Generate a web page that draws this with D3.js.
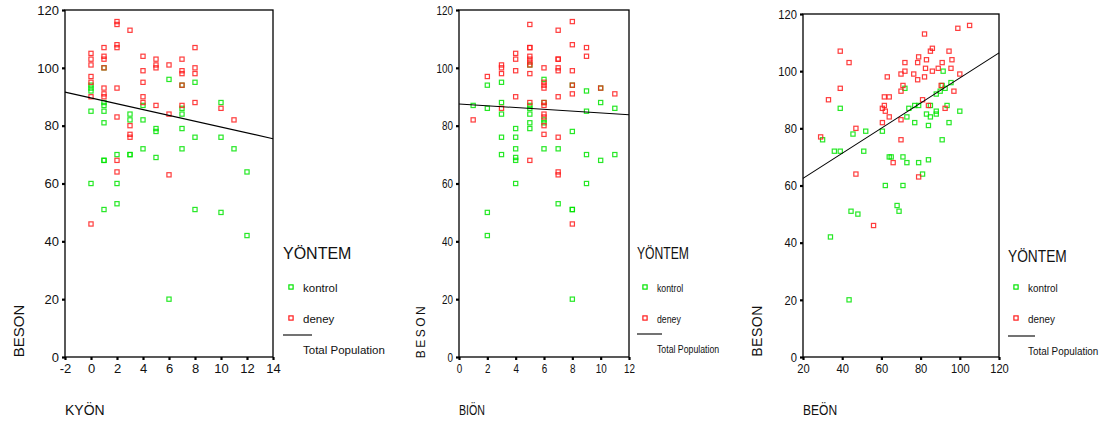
<!DOCTYPE html>
<html lang="en">
<head>
    <meta charset="UTF-8">
    <title>BESON scatter plots</title>
    <script src="https://d3js.org/d3.v7.min.js"></script>
    <style>
        body { margin: 0; background: #fff; }
        svg { display: block; font-family: "Liberation Sans", Arial, sans-serif; }
    </style>
</head>
<body>
<svg id="chart" width="1112" height="421"></svg>
<script>
    // --- data: [x, BESON] ---
    const kyonKontrol = [[0,94],[0,93],[0,92],[0,85],[0,60],[1,100],[1,88],[1,87],[1,85],[1,81],[1,68],[1,68],[1,51],
        [2,70],[2,60],[2,53],[3,84],[3,82],[3,70],[3,70],[4,87],[4,82],[4,72],[5,79],[5,78],[5,69],[6,96],[6,20],
        [7,94],[7,86],[7,84],[7,79],[7,72],[8,95],[8,76],[8,51],[10,88],[10,76],[10,50],[11,72],[12,64],[12,42]];
    const kyonDeney = [[0,105],[0,103],[0,101],[0,97],[0,95],[0,90],[0,46],[1,107],[1,104],[1,103],[1,100],[1,93],[1,91],[1,90],
        [2,116],[2,115],[2,108],[2,107],[2,93],[2,83],[2,68],[2,64],[3,113],[3,80],[3,77],[3,76],
        [4,104],[4,99],[4,95],[4,90],[4,88],[5,103],[5,101],[5,100],[5,87],[6,101],[6,84],[6,63],
        [7,103],[7,99],[7,98],[7,94],[7,87],[8,107],[8,100],[8,98],[8,88],[10,86],[11,82]];

    const bionKontrol = [[1,87],[2,94],[2,86],[2,50],[2,42],[3,95],[3,88],[3,84],[3,76],[3,70],
        [4,79],[4,76],[4,72],[4,69],[4,68],[4,60],[5,101],[5,87],[5,86],[5,84],[5,81],[5,79],
        [6,96],[6,88],[6,82],[6,81],[6,72],[7,72],[7,53],[8,94],[8,78],[8,51],[8,51],[8,20],
        [9,92],[9,85],[9,70],[9,60],[10,93],[10,88],[10,68],[11,86],[11,70]];
    const bionDeney = [[1,82],[2,97],[3,101],[3,100],[3,98],[3,86],[4,105],[4,103],[4,99],[4,90],
        [5,115],[5,107],[5,107],[5,104],[5,103],[5,102],[5,101],[5,98],[5,88],[5,68],
        [6,100],[6,95],[6,94],[6,93],[6,88],[6,87],[6,84],[6,83],[6,80],[6,77],
        [7,113],[7,103],[7,103],[7,100],[7,99],[7,90],[7,76],[7,64],[7,63],
        [8,116],[8,108],[8,99],[8,94],[8,91],[8,46],[9,107],[9,104],[10,93],[11,91]];

    const beonKontrol = [[30,76],[34,42],[36,72],[39,72],[39,87],[43.5,20],[44.5,51],[45.5,78],[48,50],[51,72],[52,79],
        [60.5,79],[62,60],[64,70],[65,70],[68,53],[69,51],[71,70],[71,60],[72,94],[73,68],[73,84],[74,87],
        [77,88],[77,82],[79,88],[79,68],[81,64],[83,85],[84,81],[84,69],[85,84],[85,88],[88,85],[88,86],[88,92],
        [90,93],[91,95],[91.5,100],[91,76],[92.5,94],[93.5,88],[94.5,82],[95.5,96],[100,86]];
    const beonDeney = [[29,77],[33,90],[39,107],[39,94],[43.5,103],[47,80],[47,64],[56,46],[60.5,82],[60.5,87],
        [61.5,88],[61.5,91],[62,86],[63,98],[64,91],[64,84],[66,68],[70,99],[70,93],[70,83],[70,76],[71,95],
        [72,103],[72,100],[76.5,99],[78.5,103],[78.5,97],[79,105],[79,63],[81,90],[82,113],[82,98],[82.5,101],
        [83,104],[84,88],[85,107],[86,108],[86,100],[89,101],[90.5,95],[91,103],[92.5,87],[94.5,107],[96,104],
        [95.5,101],[97,93],[99,115],[100,99],[105,116]];

    // Total Population fit line, ends
    const fitKyon = [[-2, 91.6], [14, 75.5]];
    const fitBion = [[0, 87.5], [12, 83.8]];
    const fitBeon = [[20, 62.5], [120, 106.4]];

    const xTicksKyon = [-2, 0, 2, 4, 6, 8, 10, 12, 14];
    const xTicksBion = [0, 2, 4, 6, 8, 10, 12];
    const xTicksBeon = [20, 40, 60, 80, 100, 120];
    const yTicks = [0, 20, 40, 60, 80, 100, 120];

    const legendLabels = ["kontrol", "deney", "Total Population"];
    const colors = { kontrol: "#00e400", deney: "#ff1a1a" };

    const svg = d3.select("#chart");
    svg.append("rect").attr("width", 1112).attr("height", 421).attr("fill", "#fff");

    // text with optional horizontal squeeze
    function label(g, x, y, txt, size, sx, anchor) {
        return g.append("text")
            .attr("transform", `translate(${x},${y}) scale(${sx},1)`)
            .attr("text-anchor", anchor || "start")
            .attr("font-size", size)
            .attr("fill", "#111")
            .text(txt);
    }

    function drawPanel(p) {
        const g = svg.append("g");
        const x = d3.scaleLinear().domain(p.xDomain).range([p.left, p.right]);
        const y = d3.scaleLinear().domain([0, 120]).range([p.bottom, p.top]);

        // axes (plain hyphen for negatives, like the original)
        const fmt = d => String(d);
        const ax = g.append("g").attr("transform", `translate(0,${p.bottom})`)
            .call(d3.axisBottom(x).tickValues(p.xTicks).tickFormat(fmt).tickSize(3).tickPadding(4));
        const ay = g.append("g").attr("transform", `translate(${p.left},0)`)
            .call(d3.axisLeft(y).tickValues(yTicks).tickFormat(fmt).tickSize(3).tickPadding(3));
        [ax, ay].forEach(a => {
            a.select(".domain").remove();
            a.selectAll(".tick line").attr("stroke", "#000").attr("stroke-width", 2.2);
            a.selectAll(".tick text").attr("font-size", 13).attr("font-family", "Liberation Sans, Arial")
                .attr("fill", "#111");
        });
        ax.selectAll(".tick text").attr("transform", `scale(${p.sx},1)`);
        ay.selectAll(".tick text").attr("transform", `scale(${p.sx},1)`).attr("x", -6 / p.sx);

        // frame
        g.append("rect")
            .attr("x", p.left).attr("y", p.top)
            .attr("width", p.right - p.left).attr("height", p.bottom - p.top)
            .attr("fill", "none").attr("stroke", "#000").attr("stroke-width", 1.3);

        // points
        const sq = 4.2;
        [["kontrol", p.kontrol], ["deney", p.deney]].forEach(([k, pts]) => {
            g.append("g").selectAll("rect").data(pts).enter().append("rect")
                .attr("x", d => x(d[0]) - sq / 2)
                .attr("y", d => y(d[1]) - sq / 2)
                .attr("width", sq).attr("height", sq)
                .attr("fill", "none")
                .attr("stroke", colors[k])
                .attr("stroke-width", 1.2)
                .attr("stroke-opacity", 0.85);
        });

        // fit line
        g.append("path")
            .attr("d", d3.line().x(d => x(d[0])).y(d => y(d[1]))(p.fit))
            .attr("stroke", "#000").attr("stroke-width", 1.1).attr("fill", "none");

        // axis titles
        g.append("text")
            .attr("transform", `translate(${p.yTitleX},331) rotate(-90)`)
            .attr("text-anchor", "middle")
            .attr("dominant-baseline", "central")
            .attr("font-size", p.yTitleSize)
            .attr("letter-spacing", p.yTitleSpacing)
            .attr("fill", "#111")
            .text("BESON");
        label(g, p.left, 415, p.xTitle, 14, p.sx);

        // legend
        const L = p.legend;
        label(g, L.x, L.y, "YÖNTEM", 16, p.sx);
        [["kontrol", 287], ["deney", 318]].forEach(([k, yy], i) => {
            g.append("rect")
                .attr("x", L.x + 8 - 2.1).attr("y", yy - 2.1)
                .attr("width", 4.2).attr("height", 4.2)
                .attr("fill", "none").attr("stroke", colors[k]).attr("stroke-width", 1.2);
            label(g, L.x + 20, yy + 5, legendLabels[i], 11.5, p.sx);
        });
        g.append("line")
            .attr("x1", L.x).attr("x2", L.x + L.lineW)
            .attr("y1", L.lineY).attr("y2", L.lineY)
            .attr("stroke", "#000").attr("stroke-width", 1.1);
        label(g, L.x + 20, L.lineY + 19, legendLabels[2], 11.5, p.sx);
    }

    drawPanel({
        xDomain: [-2, 14], xTicks: xTicksKyon, left: 65, right: 273, top: 10, bottom: 357,
        kontrol: kyonKontrol, deney: kyonDeney, fit: fitKyon, sx: 1,
        xTitle: "KYÖN", yTitleX: 18, yTitleSize: 15, yTitleSpacing: 0,
        legend: { x: 283, y: 259, lineY: 335, lineW: 29 }
    });
    drawPanel({
        xDomain: [0, 12], xTicks: xTicksBion, left: 459, right: 629, top: 10, bottom: 357,
        kontrol: bionKontrol, deney: bionDeney, fit: fitBion, sx: 0.76,
        xTitle: "BIÖN", yTitleX: 421, yTitleSize: 12, yTitleSpacing: 2.5,
        legend: { x: 637, y: 259, lineY: 334, lineW: 25 }
    });
    drawPanel({
        xDomain: [20, 120], xTicks: xTicksBeon, left: 803, right: 999, top: 14, bottom: 357,
        kontrol: beonKontrol, deney: beonDeney, fit: fitBeon, sx: 0.86,
        xTitle: "BEÖN", yTitleX: 757, yTitleSize: 14, yTitleSpacing: 0.5,
        legend: { x: 1008, y: 262, lineY: 336, lineW: 27 }
    });
</script>
</body>
</html>
